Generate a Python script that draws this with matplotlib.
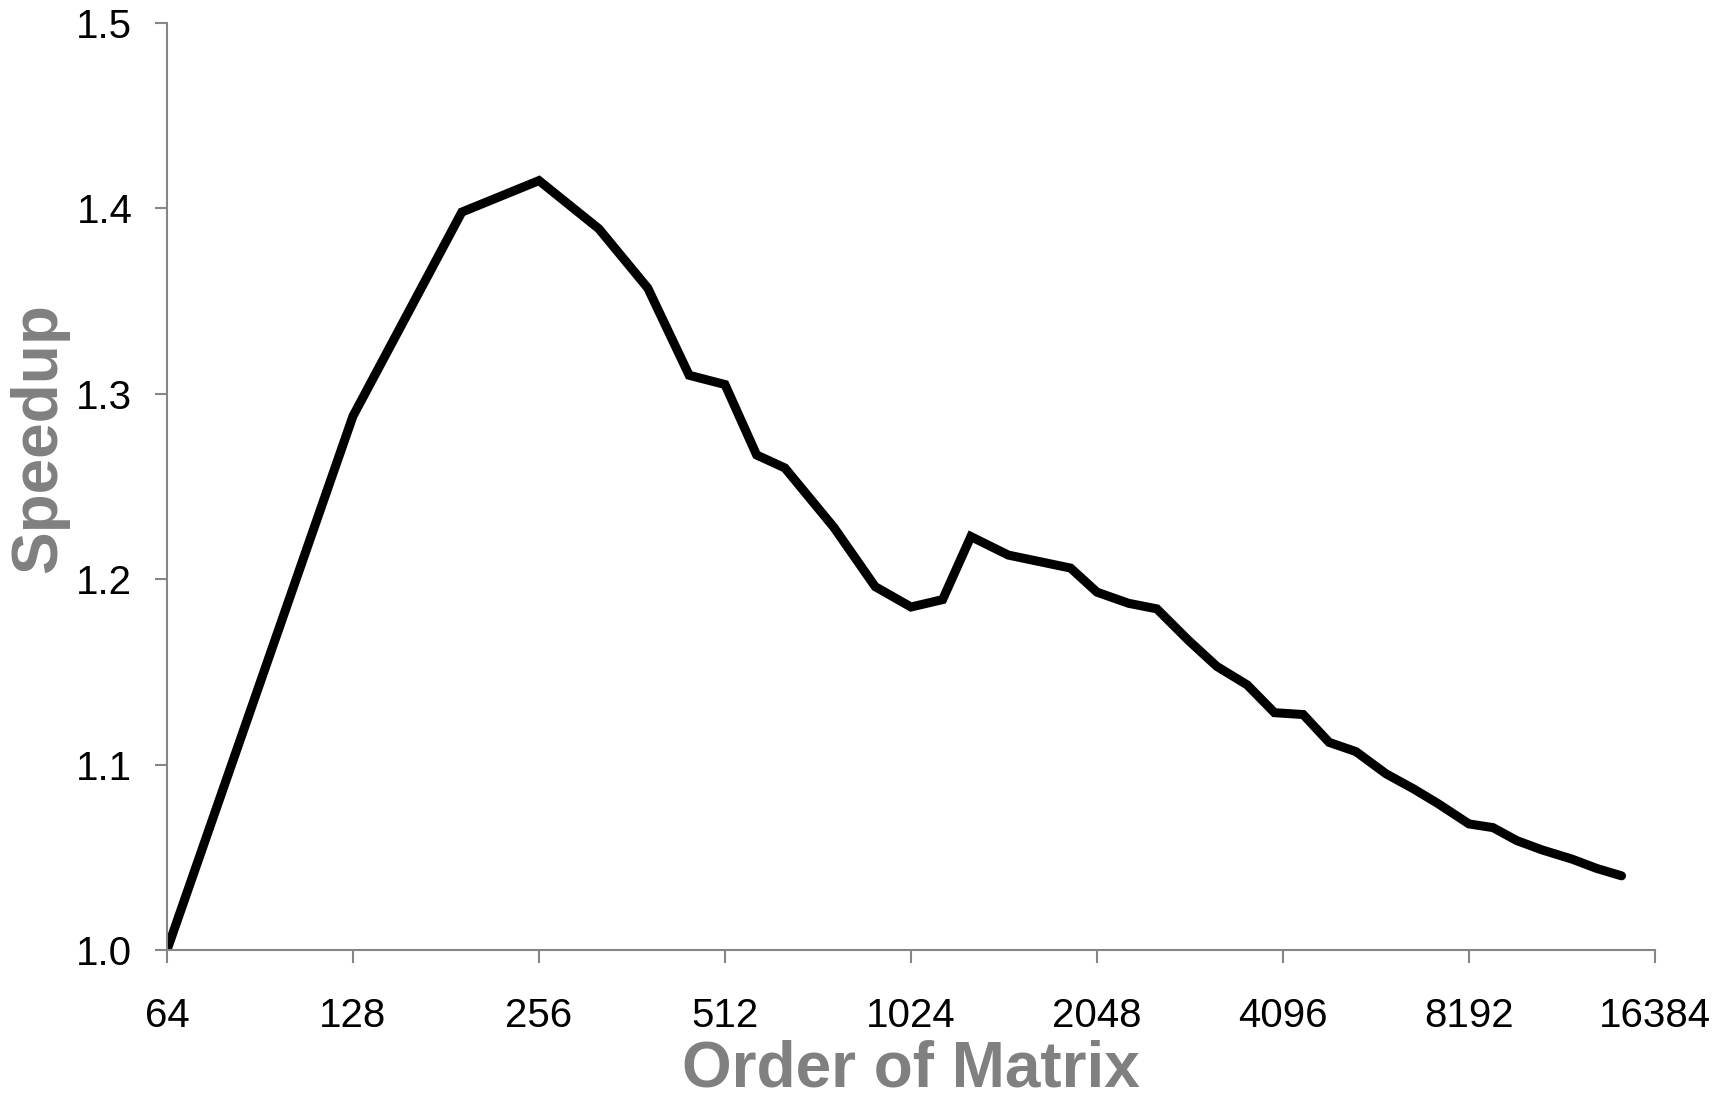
#-*-coding:utf-8 -*-
import matplotlib
matplotlib.use('Agg')
import matplotlib.pyplot as plt
from matplotlib.ticker import FixedLocator, FixedFormatter, NullLocator

# matrix order (x) and measured speedup (y)
order = [64, 128, 192, 256, 320, 384, 448, 512, 576, 640, 768, 896, 1024,
         1152, 1280, 1472, 1856, 2048, 2304, 2560, 2880, 3200, 3584, 3968,
         4416, 4864, 5376, 6016, 6656, 7296, 8192, 8960, 9792, 10752, 12032,
         13184, 14464]
speedup = [1.000, 1.288, 1.398, 1.415, 1.389, 1.357, 1.310, 1.305, 1.267,
           1.260, 1.228, 1.196, 1.185, 1.189, 1.223, 1.213, 1.206, 1.193,
           1.187, 1.184, 1.167, 1.153, 1.143, 1.128, 1.127, 1.112, 1.107,
           1.095, 1.087, 1.079, 1.068, 1.066, 1.059, 1.054, 1.049, 1.044,
           1.040]
# axis ticks
x_ticks = [64, 128, 256, 512, 1024, 2048, 4096, 8192, 16384]
x_labels = [str(v) for v in x_ticks]
y_ticks = [1.0, 1.1, 1.2, 1.3, 1.4, 1.5]
y_labels = ['1.0', '1.1', '1.2', '1.3', '1.4', '1.5']

# font like Arial
plt.rcParams['font.family'] = ['Liberation Sans', 'DejaVu Sans']
axis_gray = '#868686'
label_gray = '#808080'

# figure size 1716x1095
fig = plt.figure(figsize=(17.16, 10.95), dpi=100)
ax = fig.add_axes([167/1716, 145/1095, 1488/1716, 927/1095])

# the speedup curve
ax.plot(order, speedup, color='black', linewidth=6.5,
        solid_capstyle='round', solid_joinstyle='miter')

# log2 x axis
ax.set_xscale('log', base=2)
ax.set_xlim(64, 16384)
ax.set_ylim(1.0, 1.5)
ax.xaxis.set_major_locator(FixedLocator(x_ticks))
ax.xaxis.set_major_formatter(FixedFormatter(x_labels))
ax.xaxis.set_minor_locator(NullLocator())
ax.yaxis.set_major_locator(FixedLocator(y_ticks))
ax.yaxis.set_major_formatter(FixedFormatter(y_labels))

# spines and ticks
ax.spines['top'].set_visible(False)
ax.spines['right'].set_visible(False)
for s in ['left', 'bottom']:
    ax.spines[s].set_color(axis_gray)
    ax.spines[s].set_linewidth(1.5)
ax.tick_params(axis='x', direction='out', length=9, width=1.5,
               color=axis_gray, labelsize=29, pad=25, labelcolor='black')
ax.tick_params(axis='y', direction='out', length=9, width=1.5,
               color=axis_gray, labelsize=29, pad=16, labelcolor='black')

# axis titles
ax.set_xlabel('Order of Matrix', fontsize=46, fontweight='bold',
              color=label_gray)
ax.xaxis.set_label_coords(0.5, -0.097)
ax.set_ylabel('Speedup', fontsize=46, fontweight='bold', color=label_gray)
ax.yaxis.set_label_coords(-0.066, 0.552)

# save
plt.savefig('out.png', dpi=100)
